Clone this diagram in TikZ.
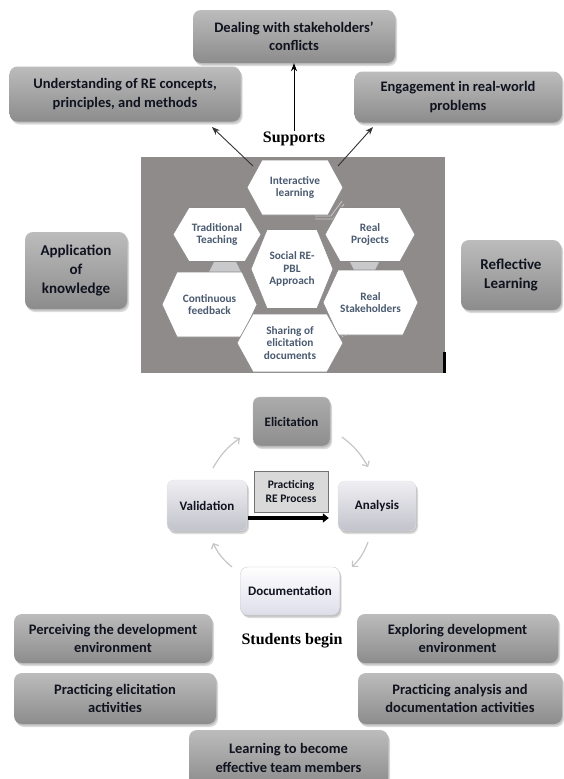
\documentclass[tikz,border=0pt]{standalone}
\usepackage{fontspec}
\setmainfont{Carlito}
\newfontfamily\serifbold{Liberation Serif}
\usetikzlibrary{arrows.meta,shadows}

\definecolor{boxtop}{HTML}{BCBCBC}
\definecolor{boxbot}{HTML}{8C8C8C}
\definecolor{boxtext}{HTML}{10131F}
\definecolor{panelgray}{HTML}{8F8B8A}
\definecolor{hexedge}{HTML}{8A8A8A}
\definecolor{hexink}{HTML}{4A5A70}
\definecolor{elictop}{HTML}{ABABAB}
\definecolor{elicbot}{HTML}{8E8E8E}
\definecolor{paletop}{HTML}{EFEFF3}
\definecolor{palebot}{HTML}{C2C2CB}
\definecolor{doctop}{HTML}{FFFFFF}
\definecolor{docbot}{HTML}{DEDEEA}
\definecolor{cycgray}{HTML}{C6C6C6}
\definecolor{linkgray}{HTML}{C9C9CC}

\tikzset{
  softshadow/.style={
    general shadow={fill=black,opacity=.12,shadow xshift=1pt,shadow yshift=-1.5pt},
    general shadow={fill=black,opacity=.14,shadow xshift=2pt,shadow yshift=-3pt}},
  gbox/.style={rounded corners=8pt, top color=boxtop, bottom color=boxbot,
    softshadow, text=boxtext, align=center, inner sep=0pt,
    font=\bfseries\fontsize{14.5}{18.5}\selectfont},
  bigtext/.style={font=\bfseries\fontsize{15}{19.3}\selectfont},
  cycbox/.style={rounded corners=7pt, softshadow, text=boxtext, align=center,
    inner sep=0pt, font=\bfseries\fontsize{13}{15}\selectfont},
  hexline/.style={draw=hexedge, line width=0.7pt, fill=white},
  hextext/.style={text=hexink, align=center, inner sep=0pt,
    font=\bfseries\fontsize{11.3}{12.8}\selectfont},
  serifhead/.style={font=\serifbold\bfseries\fontsize{16}{19}\selectfont, inner sep=1pt},
  darkarrow/.style={draw=black!80, line width=0.9pt, -{Stealth[length=8pt,width=6pt]}},
  cycarrow/.style={draw=cycgray, line width=1.2pt, -{Straight Barb[length=4pt,width=8pt]}},
  thickarrow/.style={draw=black, line width=4.5pt, -{Triangle[length=6pt,width=9pt]}},
}

% hexagon cell: name, centre x, centre y, half width, half height, corner inset, text
\newcommand\hexcell[7]{%
  \path[hexline] (#2-#4,#3) -- (#2-#4+#6,#3-#5) -- (#2+#4-#6,#3-#5) -- (#2+#4,#3)
    -- (#2+#4-#6,#3+#5) -- (#2-#4+#6,#3+#5) -- cycle;
  \node[hextext] (#1) at (#2,#3) {#7};}

\begin{document}
\begin{tikzpicture}[x=1pt,y=-1pt]
\useasboundingbox[fill=white] (0,0) rectangle (563,779);

% outcome boxes above the approach
\node[gbox, minimum width=202pt, minimum height=53pt] (deal) at (294,36.5)
  {Dealing with stakeholders’\\conflicts};
\node[gbox, minimum width=231pt, minimum height=55pt] (under) at (125,94)
  {Understanding of RE concepts,\\principles, and methods};
\node[gbox, minimum width=207pt, minimum height=51pt] (engage) at (458,97)
  {Engagement in real-world\\problems};

% side boxes
\node[gbox, bigtext, minimum width=102pt, minimum height=77pt] (apply) at (76,270.5)
  {Application\\of\\knowledge};
\node[gbox, bigtext, minimum width=100pt, minimum height=70pt] (reflect) at (511,275)
  {Reflective\\Learning};

% grey panel holding the hexagon cluster
\fill[panelgray] (141,157) rectangle (445,373);
\fill[black] (443,352) rectangle (446,373);

% light links between neighbouring cells
\fill[linkgray] (214,262) -- (236,262) -- (241,272) -- (209,272) -- cycle;
\fill[linkgray] (350,262) -- (379,262) -- (375,270) -- (354,270) -- cycle;
\draw[linkgray, line width=0.8pt] (315,216) -- (331,216) -- (342,201);
\draw[linkgray, line width=0.8pt] (315,219) -- (333,219) -- (344,204);
\draw[linkgray, line width=0.8pt] (326,314) -- (343,337);
\draw[linkgray, line width=0.8pt] (329,313) -- (346,336);

% hexagon cluster
\hexcell{hint}{295}{187.5}{48}{27.5}{15}{Interactive\\learning}
\hexcell{htrad}{217}{234.5}{44}{27}{16}{Traditional\\Teaching}
\hexcell{hproj}{370}{234.5}{45}{27}{15}{Real\\Projects}
\hexcell{hcont}{209.5}{304.5}{47.5}{32.5}{15}{Continuous\\feedback}
\hexcell{hstake}{370.5}{302.5}{47.5}{32.5}{15}{Real\\Stakeholders}
\hexcell{hshare}{290}{343}{53}{29}{16}{Sharing of\\elicitation\\documents}
\hexcell{hsocial}{292}{269}{41}{39.5}{16}{Social RE-\\PBL\\Approach}

% supports arrows
\node[serifhead] (sup) at (294,139) {Supports};
\coordinate (fromleft) at (253,166);
\coordinate (fromright) at (338,166);
\coordinate (toleft) at (212,127);
\coordinate (toright) at (373,127);
\draw[darkarrow] (fromleft) -- (toleft);
\draw[darkarrow] (fromright) -- (toright);
\draw[draw=black, line width=0.8pt, -{Stealth[length=8pt,width=6pt]}]
  (sup.north) -- (sup.north |- deal.south);

% RE process cycle
\node[cycbox, top color=elictop, bottom color=elicbot, draw=elictop!80!white,
  minimum width=77pt, minimum height=49pt] (elic) at (291.5,421.5) {Elicitation};
\node[cycbox, top color=paletop, bottom color=palebot, draw=paletop!90!gray,
  minimum width=80pt, minimum height=51pt] (valid) at (207,505.5) {Validation};
\node[cycbox, top color=paletop, bottom color=palebot, draw=paletop!90!gray,
  minimum width=78pt, minimum height=50pt] (anal) at (377,506) {Analysis};
\node[cycbox, top color=doctop, bottom color=docbot, draw=docbot!80!gray,
  minimum width=99pt, minimum height=48pt] (docu) at (290,591) {Documentation};
\node[draw=black!55, fill=black!15, line width=0.6pt, align=center, inner sep=0pt,
  text=boxtext, font=\bfseries\fontsize{11.5}{14.5}\selectfont,
  minimum width=74pt, minimum height=41pt] (prac) at (291,491.5)
  {Practicing\\RE Process};
\draw[thickarrow] ([yshift=-12.5pt,xshift=1pt]valid.east)
  -- ([yshift=-12pt,xshift=-9pt]anal.west);

\coordinate (ea1) at (342,437);
\coordinate (ea2) at (368,467);
\coordinate (ad1) at (368,542);
\coordinate (ad2) at (352,567);
\coordinate (dv1) at (232,567);
\coordinate (dv2) at (213,543);
\coordinate (ve1) at (213,468);
\coordinate (ve2) at (240,438);
\draw[cycarrow] (ea1) to[bend left=12] (ea2);
\draw[cycarrow] (ad1) to[bend left=12] (ad2);
\draw[cycarrow] (dv1) to[bend left=12] (dv2);
\draw[cycarrow] (ve1) to[bend left=12] (ve2);

% starting activities
\node[serifhead] (begin) at (292,641) {Students begin};
\node[gbox, minimum width=198pt, minimum height=49pt] (perc) at (113,638.5)
  {Perceiving the development\\environment};
\node[gbox, minimum width=201pt, minimum height=49pt] (explo) at (457.5,638.5)
  {Exploring development\\environment};
\node[gbox, minimum width=202pt, minimum height=51pt] (pelic) at (115,698.5)
  {Practicing elicitation\\activities};
\node[gbox, minimum width=204pt, minimum height=51pt] (panal) at (460,698.5)
  {Practicing analysis and\\documentation activities};
\node[gbox, minimum width=199pt, minimum height=56pt] (learn) at (288.5,758)
  {Learning to become\\effective team members};
\end{tikzpicture}
\end{document}
